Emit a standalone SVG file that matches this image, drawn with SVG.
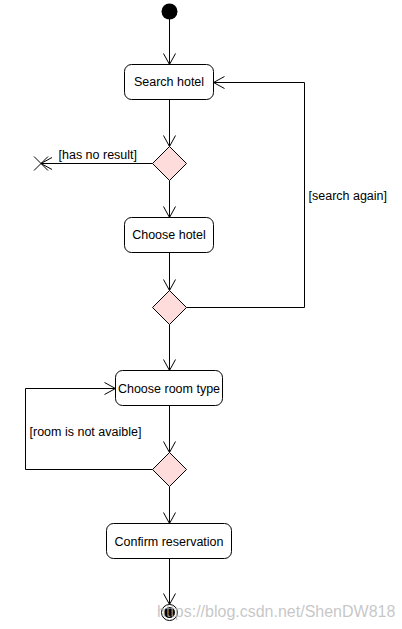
<svg xmlns="http://www.w3.org/2000/svg" width="402" height="629" viewBox="0 0 402 629">
  <defs>
    <style>
      .act { fill: #ffffff; stroke: #000000; stroke-width: 1; }
      .dec { fill: #ffdcdc; stroke: #000000; stroke-width: 1; }
      .lbl { font-family: "Liberation Sans", Arial, sans-serif; font-size: 12.5px; fill: #000000; }
      .edge { fill: none; stroke: #000000; stroke-width: 1; }
      .wm { font-family: "Liberation Sans", Arial, sans-serif; font-size: 16px; fill: #b4b4b4; fill-opacity: 0.75; }
    </style>
    <marker id="open" markerUnits="userSpaceOnUse" markerWidth="14" markerHeight="14" viewBox="0 0 14 14" refX="12" refY="7" orient="auto">
      <path d="M1,1 L12,7 L1,13" fill="none" stroke="#000000" stroke-width="1"/>
    </marker>
  </defs>
  <rect width="402" height="629" fill="#ffffff"/>

  <g id="connectors">
    <path class="edge" d="M169.5,19 L169.5,64.5" marker-end="url(#open)"/>
    <path class="edge" d="M169.5,99.5 L169.5,146.5" marker-end="url(#open)"/>
    <path class="edge" d="M152.5,163.5 L41,163.5" marker-end="url(#open)"/>
    <path class="edge" d="M169.5,180.5 L169.5,217.5" marker-end="url(#open)"/>
    <path class="edge" d="M169.5,252.5 L169.5,290.5" marker-end="url(#open)"/>
    <path class="edge" d="M186.5,307.5 L304.5,307.5 L304.5,82.5 L213.5,82.5" marker-end="url(#open)"/>
    <path class="edge" d="M169.5,324.5 L169.5,370.5" marker-end="url(#open)"/>
    <path class="edge" d="M169.5,405.5 L169.5,452.5" marker-end="url(#open)"/>
    <path class="edge" d="M152.5,469.5 L25.5,469.5 L25.5,388.5 L115.5,388.5" marker-end="url(#open)"/>
    <path class="edge" d="M169.5,486.5 L169.5,523.5" marker-end="url(#open)"/>
    <path class="edge" d="M169.5,558.5 L169.5,604.5" marker-end="url(#open)"/>
    <text class="lbl" x="58.5" y="158.5">[has no result]</text>
    <text class="lbl" x="308.5" y="200">[search again]</text>
    <text class="lbl" x="29.5" y="436">[room is not avaible]</text>
  </g>

  <g id="start">
    <circle cx="169.5" cy="11.5" r="8" fill="#000000"/>
  </g>

  <g id="search-hotel">
    <rect class="act" x="124.5" y="64.5" width="89" height="35" rx="7" ry="7"/>
    <text class="lbl" x="169" y="86" text-anchor="middle">Search hotel</text>
  </g>

  <g id="decision1">
    <polygon class="dec" points="169.5,146.5 186.5,163.5 169.5,180.5 152.5,163.5"/>
  </g>

  <g id="flow-final">
    <path d="M34,156.5 L48,170.5 M34,170.5 L48,156.5" fill="none" stroke="#000000" stroke-width="1"/>
  </g>

  <g id="choose-hotel">
    <rect class="act" x="124.5" y="217.5" width="89" height="35" rx="7" ry="7"/>
    <text class="lbl" x="169" y="239" text-anchor="middle">Choose hotel</text>
  </g>

  <g id="decision2">
    <polygon class="dec" points="169.5,290.5 186.5,307.5 169.5,324.5 152.5,307.5"/>
  </g>

  <g id="choose-room-type">
    <rect class="act" x="115.5" y="370.5" width="107" height="35" rx="7" ry="7"/>
    <text class="lbl" x="169" y="392.5" text-anchor="middle">Choose room type</text>
  </g>

  <g id="decision3">
    <polygon class="dec" points="169.5,452.5 186.5,469.5 169.5,486.5 152.5,469.5"/>
  </g>

  <g id="confirm-reservation">
    <rect class="act" x="106.5" y="523.5" width="125" height="35" rx="7" ry="7"/>
    <text class="lbl" x="169" y="545.5" text-anchor="middle">Confirm reservation</text>
  </g>

  <g id="end">
    <circle cx="169.5" cy="612.5" r="8" fill="#ffffff" stroke="#000000" stroke-width="1"/>
    <circle cx="169.5" cy="612.5" r="5.5" fill="#000000"/>
  </g>

  <text class="wm" x="157" y="617">https://blog.csdn.net/ShenDW818</text>
</svg>
